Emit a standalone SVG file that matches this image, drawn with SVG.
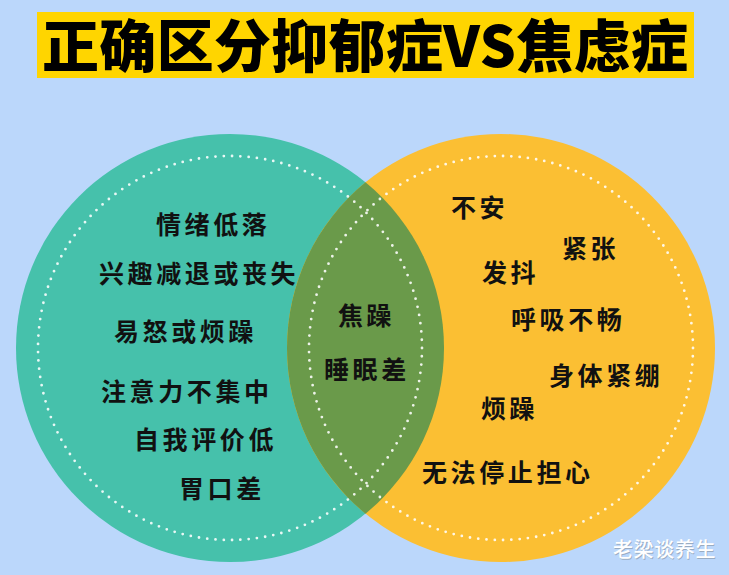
<svg xmlns="http://www.w3.org/2000/svg" width="729" height="575" viewBox="0 0 729 575">
  <style>
    .lbl { font-family: "Noto Sans CJK SC", "Noto Sans", sans-serif; font-weight: 700; font-size: 25px; letter-spacing: 3.6px; fill: #111; }
    .title { font-family: "Noto Sans CJK SC", "Noto Sans", sans-serif; font-weight: 900; font-size: 57px; fill: #000; }
    .dots { fill: none; stroke: #ffffff; stroke-opacity: 0.88; stroke-width: 2.8; stroke-linecap: round; stroke-dasharray: 0 1; }
    .wm { font-family: "Noto Sans CJK SC", "Noto Sans", sans-serif; font-weight: 500; font-size: 20px; letter-spacing: 0.6px; }
  </style>
  <rect width="729" height="575" fill="#BBD7FB"/>

  <g id="title">
    <rect x="37" y="12" width="657" height="66" fill="#FFD500"/>
    <text class="title" x="42" y="67" textLength="646" lengthAdjust="spacing">正确区分抑郁症VS焦虑症</text>
  </g>

  <g id="depression-circle">
    <circle cx="230" cy="348" r="214" fill="#46C1AB"/>
  </g>
  <g id="anxiety-circle">
    <circle cx="501" cy="348" r="214" fill="#FBBF33"/>
  </g>
  <g id="overlap">
    <path d="M365.5,182.36 A214,214 0 0,1 365.5,513.64 A214,214 0 0,1 365.5,182.36 Z" fill="#6A9A4A"/>
  </g>
  <g id="dotted-rings">
    <circle class="dots" cx="230" cy="348" r="192" pathLength="145"/>
    <circle class="dots" cx="501" cy="348" r="192" pathLength="145"/>
  </g>

  <g id="depression-labels">
    <text class="lbl" x="156" y="234">情绪低落</text>
    <text class="lbl" x="99" y="283">兴趣减退或丧失</text>
    <text class="lbl" x="114" y="341">易怒或烦躁</text>
    <text class="lbl" x="101" y="401">注意力不集中</text>
    <text class="lbl" x="134" y="449">自我评价低</text>
    <text class="lbl" x="179" y="498">胃口差</text>
  </g>
  <g id="shared-labels">
    <text class="lbl" x="338" y="325">焦躁</text>
    <text class="lbl" x="324" y="379">睡眠差</text>
  </g>
  <g id="anxiety-labels">
    <text class="lbl" x="451" y="217">不安</text>
    <text class="lbl" x="562" y="258">紧张</text>
    <text class="lbl" x="482" y="282">发抖</text>
    <text class="lbl" x="511" y="329">呼吸不畅</text>
    <text class="lbl" x="549" y="385">身体紧绷</text>
    <text class="lbl" x="481" y="418">烦躁</text>
    <text class="lbl" x="422" y="482">无法停止担心</text>
  </g>
  <g id="connectors"/>

  <g id="watermark">
    <text class="wm" x="613.8" y="557.8" fill="#8a99aa" fill-opacity="0.7">老梁谈养生</text>
    <text class="wm" x="613" y="557" fill="#ffffff">老梁谈养生</text>
  </g>
</svg>
